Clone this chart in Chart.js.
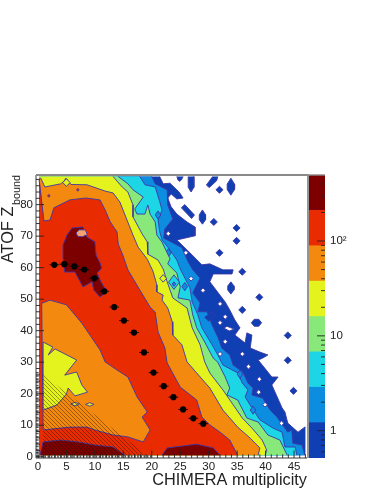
<!DOCTYPE html>
<html>
<head>
<meta charset="utf-8">
<style>
html,body{margin:0;padding:0;background:#fff;width:382px;height:494px;overflow:hidden}
canvas{position:absolute;top:0}
#main{left:0}
#bar{left:300px}
</style>
<script src="https://cdn.jsdelivr.net/npm/chart.js@4/dist/chart.umd.min.js"></script>
</head>
<body>
<canvas id="main" width="382" height="494"></canvas>
<canvas id="bar" width="82" height="494"></canvas>
<script>
const xTitle = 'CHIMERA multiplicity';
const yTitle = 'ATOF Z';
const ySubscript = 'bound';
const xRange = [-0.35, 47.28];
const yRange = [-0.4, 89.4];

const zLevels = [0.515, 1.216, 2.87, 6.78, 16, 37.8, 89.2, 210.6, 497];
const levelColors = ['#0f3fb3', '#0c8de0', '#1cd5e5', '#88e97a', '#e4f21d', '#f4890f', '#e82b00', '#7c0000'];
const zLabels = { 1: '1', 10: '10', 100: '10\u00b2' };

const meanX = [2.87, 4.63, 6.39, 8.14, 9.9, 11.66, 13.4, 15.1, 16.87, 18.63, 20.3, 22.1, 23.8, 25.5, 27.3, 29.05];
const meanY = [60.9, 61.1, 60.4, 59.4, 56.6, 52.5, 47.5, 43.2, 39.4, 33.1, 26.7, 22.4, 18.9, 15, 12.2, 10.5];
const meanXErr = [0.85, 0.85, 0.85, 0.85, 0.85, 0.85, 0.85, 0.85, 0.85, 0.85, 0.85, 0.85, 0.85, 0.85, 0.85, 0.85];

const darkBlueMain = [[0.2,0.5],[0.2,88.9],[21.4,88.9],[22,86.6],[23.2,86.8],[24.8,84],[25.5,82.1],[24.4,81.8],[23.4,83.4],[22.8,82.1],[23.4,79.3],[24.4,77],[26.2,74.5],[27.6,72.9],[27.6,70.1],[24.4,68.8],[27.1,64],[28.8,60.9],[30.2,61.2],[32.5,59.3],[34.3,59.3],[34.1,58],[30.8,58],[30.2,55.5],[32.9,49.1],[33.7,46.6],[34.6,43.4],[35.5,40.9],[34.6,38.6],[36.4,36.1],[36.7,39.3],[37.6,38.6],[37.3,34.5],[39,33.2],[40.4,32.3],[39.5,31.3],[38.7,30.7],[41.1,25.3],[42.2,25.3],[41.1,22.8],[42.9,15.5],[43.4,14.2],[43.9,10.7],[45.7,7.8],[46.9,9.4],[47,9.4],[47,0.5]];
const blueMain = [[0.2,0.5],[0.2,88.9],[20,88.9],[20.6,86.6],[22.7,84.7],[22.8,79.9],[23.7,75.4],[22.3,72.3],[22.1,69.4],[24.1,67.5],[25.3,66.3],[26.4,61.8],[27.2,59.3],[28.5,56.7],[27.2,52],[28.5,48.8],[28.1,46],[29.7,46],[30.6,41.8],[31.6,38],[32.3,34.5],[33.7,32.3],[34.3,29.1],[36,26.9],[36.9,23.4],[37.8,21.8],[37.6,19.6],[39.5,18.6],[40.8,14.8],[42,12.6],[43.9,7.8],[44.6,8.5],[44.8,4.3],[46.4,3.7],[46.9,0.5]];
const cyanMain = [[0.2,0.5],[0.2,88.9],[17.9,88.9],[18.8,86.3],[20.6,85.6],[21.4,80.9],[21.8,78.3],[21.1,75.1],[21.4,71.3],[21.8,68.8],[22.8,66.6],[24.4,62.4],[25,59.6],[26.7,53.6],[27.1,49.1],[28.1,45],[28.8,40.9],[30.6,35.5],[31.6,32.3],[32.5,29.1],[35.1,26.6],[35.9,23.4],[36.9,21.2],[36.4,19],[37.6,15.5],[39,11.7],[41.3,9.1],[42.9,7.8],[43.4,3.1],[45.2,3.1],[45.5,0.5]];
const greenMain = [[0.2,0.5],[0.2,88.9],[14.1,88.9],[15.8,86.6],[16.7,84.7],[18.5,82.4],[17,78.6],[17.4,77],[18.8,77],[19.3,79.9],[19.7,77],[20.6,74.5],[20.9,70.3],[21.8,68.1],[23.2,62.8],[22.8,61.2],[24.4,58.3],[25,53.9],[24.6,50.4],[26.7,49.7],[27.2,45],[27.9,40.9],[29.3,36.4],[30.8,31.3],[31.6,30],[32.9,25.3],[33.7,21.8],[33.2,19.6],[35.1,18],[36.7,12.3],[38.7,11],[40.4,6.9],[42.5,5.3],[43.8,0.5]];
const yellowMain = [[0.2,0.5],[0.2,88.9],[13.2,88.9],[14.8,85.6],[15.8,84],[16.7,79.9],[16.7,76.1],[18.3,70.7],[19.2,68.2],[19.3,64.3],[21.1,62.4],[22,59.6],[22.7,55.5],[23.7,50.4],[26.2,47.2],[27.1,40.9],[28.5,35.5],[29.3,30.1],[30.2,26.6],[32.5,21.2],[35.9,12.3],[37.6,9.1],[39.4,5.3],[40.2,2.1],[39.9,0.5]];
const orangeMain = [[0.2,0.5],[0.2,88.4],[0.5,88.4],[1.2,85.6],[4,86.6],[4.6,87.5],[4.9,88.4],[5.3,87.5],[5.8,86.4],[8.6,86.3],[11.8,84.3],[13.2,83.7],[14.4,80.8],[15.3,76.7],[16,73.5],[16.7,70.3],[17.6,66.5],[19.2,62.7],[20.2,58.9],[20.9,54.5],[20.9,52.3],[22,51.3],[21.8,49.7],[22.8,47.2],[23.6,42.8],[23.7,38.6],[25.3,35.5],[26.2,30.1],[30.2,21.8],[32.5,14.8],[35.1,9.4],[37.3,5.9],[39,2.8],[38.7,0.5]];
const redMain = [[0.2,0.5],[0.2,87.8],[0.3,87.8],[1.05,74.8],[2.1,75.1],[2.8,79],[5.6,81.5],[8.4,82.1],[10.9,81.5],[11.8,78.3],[12.7,74.5],[13.9,71.3],[14.1,67.5],[14.9,64],[15.8,59.3],[17.9,52.9],[19.7,47.5],[20.6,45.9],[21.1,39.6],[22.3,34.5],[22.7,29.8],[25,22.1],[27.9,18],[28.8,12.6],[30.2,10.1],[32,7.8],[33.7,5.3],[35.1,0.5]];
const orangeLower = [[0.65,48.7],[2.1,49.7],[5,48.2],[7.7,42.4],[10.9,33.9],[11.8,30.1],[13.9,27.5],[15.8,25.3],[17.4,19],[19.2,14.2],[18.3,12.6],[19.7,8.5],[18.5,4.7],[15.8,6.3],[13.2,6.9],[10,8.5],[8.6,9.4],[5.6,9.4],[0.9,8.5]];
const yellowLower = [[0.9,36.4],[2.6,34.8],[1.8,32.3],[3,34.2],[6.8,30.7],[4.7,25.9],[6.8,26.9],[7.7,22.8],[8.7,20.5],[6.5,19.3],[5.3,21.8],[5,19.9],[3.3,16.4],[0.9,14.8]];
const darkRedUpper = [[6,72.6],[7.9,72.9],[8.6,69.7],[10,68.2],[10.2,64],[10.9,61.5],[11.2,59.9],[10.4,58.3],[10.9,56.1],[12.1,52.3],[10.9,50.7],[9.8,52.9],[9.5,55.5],[7.9,53.9],[6.5,58.6],[4.7,58.6],[4.4,63.1],[4.4,67.2],[5.1,70.4]];
const orangeHole = [[6.7,71],[7.2,72],[8.3,72],[8.7,70.5],[7.8,69.8],[7,69.9]];
const darkRedLeft = [[0.35,0.5],[0.9,4.7],[4,5.3],[7,4.7],[10,3.7],[13.2,3.1],[15.3,0.5]];
const darkRedRight = [[21.8,0.5],[22.7,2.8],[26.7,3.7],[27.9,4],[30.8,2.8],[32,0.5]];
const hatchArea = [[0.9,26],[19.2,0.5],[0.9,0.5]];

const darkBlueBlobs = [
  [[24.4,88.9],[25.5,88.9],[25.2,87.8],[24.9,87.4],[24.6,87.8]],
  [[26.4,88.9],[27.4,88.9],[27.4,85.5],[26.9,84],[26.4,85.5]],
  [[29.6,86.2],[30.1,85.4],[31.4,87.6],[31.6,88.9],[30.7,88.9]],
  [[33.9,88.4],[34.55,86.5],[34.55,84.8],[33.9,83],[33.25,84.8],[33.25,86.5]],
  [[25.2,79],[25.8,80],[27.5,76.7],[27,75.6]],
  [[28.9,78.3],[29.45,76.8],[29.45,75.2],[28.9,73.8],[28.35,75.2],[28.35,76.8]],
  [[33.9,55.5],[34.45,54.2],[34.45,52.9],[33.9,51.6],[33.35,52.9],[33.35,54.2]],
  [[37.5,42.5],[38,43.6],[38.8,43.6],[39.3,42.5],[38.8,41.4],[38,41.4]]
];
const darkBlueDiamonds = [[31.9,84.7],[30.9,74.5],[34.9,72.6],[34.9,68.5],[31.9,64.7],[35.9,58.7],[38.9,50.6],[35.9,46.6],[43.9,38.5],[43.9,30.6],[44.9,20.9]];
const bluePockets = [[21.1,76.7],[22.9,64.7],[25.8,54],[37.8,14.8],[35.5,26.2]];
const cyanPocket = [23.9,55.4];
const blueDot = [23.9,54.8];
const darkPatches = [[[29.3,44.3],[30.7,46],[31,44.6],[30,43]]];
const whiteHoles = [[22.9,70.8],[26,64.7],[26.9,56.5],[29,52.8],[32,48.5],[32.9,44.4],[32,42.5],[32.9,36.5],[32,32.6],[35.9,32.6],[37,28.6],[38.9,24.6],[38.8,20.5],[39.9,16.5],[42.8,10.6]];
const whiteSliver = [[32.7,40.8],[33.2,41.4],[34.5,40.5],[33.6,39.9]];
const yellowSpecks = [[22,56.6]];
const peakSpeck = [5,87];
const yellowEllipses = [[6.5,16.7],[9.1,16.6]];
const redSpecks = [[7,84.7],[1.9,82.8],[18.9,9.4]];

const checkerLeft = [[-0.12,0],[-0.12,27]];
const checkerBottom = [[0,0.1],[20,0.1]];

const contourLine = '#3c37a6';

function toPoints(list) { return list.map(p => ({ x: p[0], y: p[1] })); }
function closed(list) { return toPoints(list.concat([list[0]])); }
function diamond(c, hw, hh) { return [[c[0]-hw,c[1]],[c[0],c[1]+hh],[c[0]+hw,c[1]],[c[0],c[1]-hh]]; }
function onEdge(a, b) {
  return (a.x === 0.2 && b.x === 0.2) || (a.y === 0.5 && b.y === 0.5) || (a.y === 88.9 && b.y === 88.9) || (a.x === 47 && b.x === 47);
}

const shapes = [];
function add(list, fillStyle) { shapes.push({ list, fillStyle }); }

add(darkBlueMain, levelColors[0]);
darkBlueBlobs.forEach(b => add(b, levelColors[0]));
darkBlueDiamonds.forEach(c => add(diamond(c, 0.62, 1.12), levelColors[0]));
add(blueMain, levelColors[1]);
darkPatches.forEach(b => add(b, levelColors[0]));
add(cyanMain, levelColors[2]);
bluePockets.forEach(c => add(diamond(c, 0.5, 1.3), levelColors[1]));
add(greenMain, levelColors[3]);
add(diamond(cyanPocket, 0.95, 2.3), levelColors[2]);
add(diamond(blueDot, 0.3, 0.7), levelColors[1]);
add(yellowMain, levelColors[4]);
yellowSpecks.forEach(c => add(diamond(c, 0.6, 1.2), levelColors[4]));
add(orangeMain, levelColors[5]);
add(diamond(peakSpeck, 0.65, 1.2), levelColors[4]);
add(redMain, levelColors[6]);
redSpecks.forEach(c => add(diamond(c, 0.22, 0.45), levelColors[6]));
add(orangeLower, levelColors[5]);
add(yellowLower, levelColors[4]);
yellowEllipses.forEach(c => add(diamond(c, 0.75, 0.55), levelColors[4]));
add(darkRedUpper, levelColors[7]);
add(orangeHole, '#f4a070');
add(darkRedLeft, levelColors[7]);
add(darkRedRight, levelColors[7]);
whiteHoles.forEach(c => add(diamond(c, 0.42, 0.75), '#ffffff'));
add(whiteSliver, '#ffffff');

function hatchPattern() {
  const c = document.createElement('canvas');
  c.width = 4; c.height = 4;
  const g = c.getContext('2d');
  g.strokeStyle = 'rgba(25,20,0,0.7)';
  g.lineWidth = 0.6;
  g.beginPath();
  g.moveTo(-1, -1); g.lineTo(5, 5);
  g.moveTo(-1, 3); g.lineTo(1, 5);
  g.moveTo(3, -1); g.lineTo(5, 1);
  g.stroke();
  return g.createPattern(c, 'repeat');
}

const datasets = shapes.map(s => ({
  type: 'scatter', data: closed(s.list), showLine: true, fill: false, pointRadius: 0,
  borderColor: contourLine, borderWidth: 0.9, polygonFill: s.fillStyle, tension: 0,
  segment: { borderColor: c => (onEdge(c.p0.parsed, c.p1.parsed) ? 'rgba(0,0,0,0)' : undefined) }
}));
datasets.push({ type: 'scatter', data: closed(hatchArea), showLine: false, pointRadius: 0, polygonFill: hatchPattern() });
datasets.push({ type: 'scatter', data: toPoints(checkerLeft), showLine: true, pointRadius: 0, fill: false, borderColor: '#555', borderWidth: 2.6, borderDash: [1.6, 1.6], clip: 4 });
datasets.push({ type: 'scatter', data: toPoints(checkerBottom), showLine: true, pointRadius: 0, fill: false, borderColor: '#555', borderWidth: 2.6, borderDash: [1.6, 1.6], clip: 4 });
datasets.push({ type: 'scatter', data: meanX.map((x, i) => ({ x, y: meanY[i] })), showLine: false, pointRadius: 3.1, pointBackgroundColor: '#000', pointBorderWidth: 0, xErrors: meanXErr });
datasets.forEach((d, i) => { d.order = datasets.length - i; });

const polygonPlugin = {
  id: 'polygonFill',
  beforeDatasetDraw(chart, args) {
    const ds = chart.data.datasets[args.index];
    if (!ds.polygonFill) return;
    const pts = args.meta.data, ctx = chart.ctx;
    ctx.save();
    ctx.beginPath();
    pts.forEach((p, i) => { if (i) ctx.lineTo(p.x, p.y); else ctx.moveTo(p.x, p.y); });
    ctx.closePath();
    ctx.fillStyle = ds.polygonFill;
    ctx.fill();
    ctx.restore();
  },
  afterDatasetDraw(chart, args) {
    const ds = chart.data.datasets[args.index];
    if (!ds.xErrors) return;
    const ctx = chart.ctx, xs = chart.scales.x;
    ctx.save();
    ctx.strokeStyle = '#000';
    ctx.lineWidth = 0.8;
    args.meta.data.forEach((p, i) => {
      ctx.beginPath();
      ctx.moveTo(xs.getPixelForValue(meanX[i] - ds.xErrors[i]), p.y);
      ctx.lineTo(xs.getPixelForValue(meanX[i] + ds.xErrors[i]), p.y);
      ctx.stroke();
    });
    ctx.restore();
  }
};

const framePlugin = {
  id: 'frame',
  afterDraw(chart) {
    const ctx = chart.ctx, a = chart.chartArea, xs = chart.scales.x, ys = chart.scales.y;
    ctx.save();
    ctx.strokeStyle = '#222';
    ctx.lineWidth = 0.9;
    xs.ticks.forEach(t => {
      const px = xs.getPixelForValue(t.value), len = t.value % 5 === 0 ? 7.5 : 3.7;
      ctx.beginPath(); ctx.moveTo(px, a.bottom); ctx.lineTo(px, a.bottom - len); ctx.stroke();
    });
    ys.ticks.forEach(t => {
      const py = ys.getPixelForValue(t.value), len = t.value % 10 === 0 ? 8 : 4;
      ctx.beginPath(); ctx.moveTo(a.left, py); ctx.lineTo(a.left + len, py); ctx.stroke();
    });
    ctx.beginPath(); ctx.moveTo(a.left, a.top); ctx.lineTo(a.left, a.bottom); ctx.lineTo(a.right, a.bottom); ctx.stroke();
    ctx.strokeStyle = '#8a8a8a';
    ctx.lineWidth = 1.8;
    ctx.beginPath(); ctx.moveTo(a.left, a.top); ctx.lineTo(a.right + 1, a.top); ctx.lineTo(a.right + 1, a.bottom); ctx.stroke();
    ctx.translate(20, a.top + 30);
    ctx.rotate(-Math.PI / 2);
    ctx.font = '10.8px "Liberation Sans"';
    ctx.fillStyle = '#222';
    ctx.textAlign = 'left';
    ctx.textBaseline = 'alphabetic';
    ctx.fillText(ySubscript, 0, 0);
    ctx.restore();
  }
};

const noTickGrid = { display: false, drawTicks: false, tickLength: 0 };

new Chart(document.getElementById('main'), {
  type: 'scatter',
  data: { datasets },
  plugins: [polygonPlugin, framePlugin],
  options: {
    responsive: false, animation: false, events: [],
    layout: { padding: { top: 175, right: 75, left: 0, bottom: 0 } },
    plugins: { legend: { display: false }, tooltip: { enabled: false } },
    scales: {
      x: {
        type: 'linear', min: xRange[0], max: xRange[1],
        afterFit: s => { s.height = 36; },
        grid: noTickGrid, border: { display: false },
        ticks: { stepSize: 1, autoSkip: false, includeBounds: false, maxRotation: 0, minRotation: 0, padding: 2,
          color: '#222', font: { family: '"Liberation Sans"', size: 11.5 },
          callback: v => (v % 5 === 0 ? String(v) : '') },
        title: { display: true, text: xTitle, align: 'end', color: '#222',
          font: { family: '"Liberation Sans"', size: 16.3, lineHeight: 1 }, padding: { top: 0, bottom: 5 } }
      },
      y: {
        type: 'linear', min: yRange[0], max: yRange[1],
        afterFit: s => { s.width = 36; },
        grid: noTickGrid, border: { display: false },
        ticks: { stepSize: 2, autoSkip: false, includeBounds: false, padding: 3,
          color: '#222', font: { family: '"Liberation Sans"', size: 11.5 },
          callback: v => (v % 10 === 0 ? String(v) : '') },
        title: { display: true, text: yTitle + '\u00a0\u00a0\u00a0\u00a0\u00a0\u00a0\u00a0', align: 'end', color: '#222',
          font: { family: '"Liberation Sans"', size: 16.3, lineHeight: 1 }, padding: { top: 0, bottom: 0 } }
      }
    }
  }
});

const barTicksPlugin = {
  id: 'barTicks',
  afterDraw(chart) {
    const ctx = chart.ctx, a = chart.chartArea, zs = chart.scales.y;
    ctx.save();
    ctx.strokeStyle = '#222';
    ctx.lineWidth = 0.9;
    zs.ticks.forEach(t => {
      const e = Math.floor(Math.log10(t.value)), m = t.value / Math.pow(10, e);
      if (Math.abs(m - Math.round(m)) > 1e-6) return;
      const py = zs.getPixelForValue(t.value), len = Math.round(m) === 1 ? 8 : 4;
      ctx.beginPath(); ctx.moveTo(a.right, py); ctx.lineTo(a.right - len, py); ctx.stroke();
    });
    ctx.strokeStyle = '#8a8a8a';
    ctx.lineWidth = 1.4;
    ctx.beginPath(); ctx.moveTo(a.left, a.top); ctx.lineTo(a.right, a.top); ctx.stroke();
    ctx.restore();
  }
};

new Chart(document.getElementById('bar'), {
  type: 'bar',
  data: {
    labels: ['z'],
    datasets: levelColors.map((c, i) => ({
      data: [[zLevels[i], zLevels[i + 1]]], backgroundColor: c, borderWidth: 0,
      grouped: false, barPercentage: 1, categoryPercentage: 1
    }))
  },
  plugins: [barTicksPlugin],
  options: {
    responsive: false, animation: false, events: [],
    layout: { padding: { top: 175, left: 9, right: 0, bottom: 36 } },
    plugins: { legend: { display: false }, tooltip: { enabled: false } },
    scales: {
      x: { display: false },
      y: {
        type: 'logarithmic', position: 'right', min: zLevels[0], max: zLevels[8],
        afterFit: s => { s.width = 57; },
        grid: noTickGrid, border: { display: false },
        ticks: { autoSkip: false, padding: 5, color: '#222', font: { family: '"Liberation Sans"', size: 11.5 },
          callback: v => zLabels[v] || '' }
      }
    }
  }
});
</script>
</body>
</html>
